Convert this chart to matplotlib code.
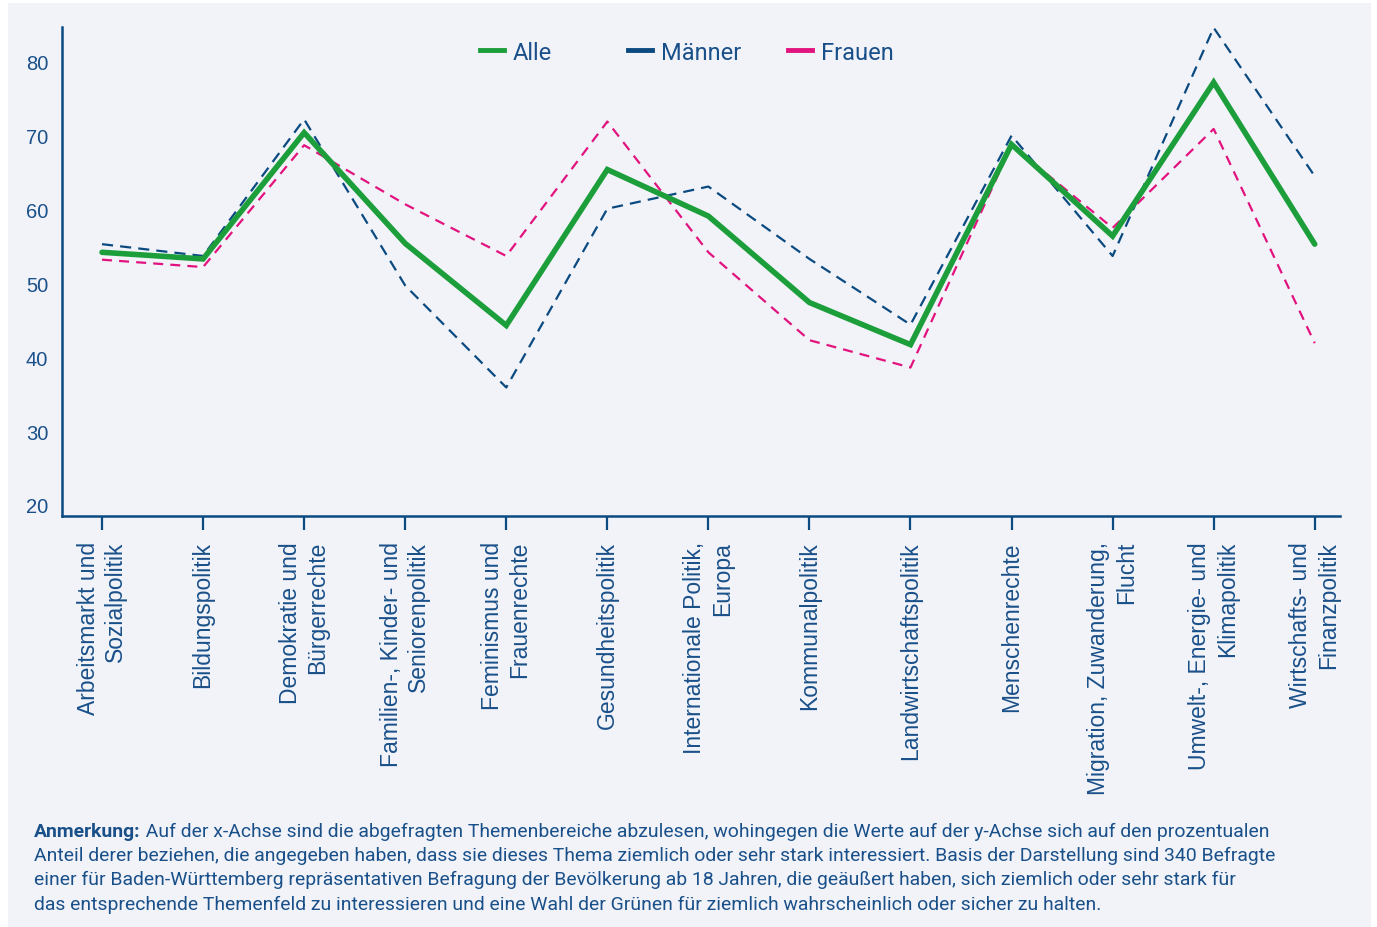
import matplotlib
matplotlib.use("Agg")
import matplotlib.pyplot as plt
from matplotlib.lines import Line2D
from matplotlib.patches import Rectangle
import numpy as np

themen = ["Arbeitsmarkt und\nSozialpolitik", "Bildungspolitik", "Demokratie und\nBürgerrechte",
          "Familien-, Kinder- und\nSeniorenpolitik", "Feminismus und\nFrauenrechte",
          "Gesundheitspolitik", "Internationale Politik,\nEuropa", "Kommunalpolitik",
          "Landwirtschaftspolitik", "Menschenrechte", "Migration, Zuwanderung,\nFlucht",
          "Umwelt-, Energie- und\nKlimapolitik", "Wirtschafts- und\nFinanzpolitik"]
alle = [54.2, 53.3, 70.4, 55.4, 44.3, 65.4, 59.1, 47.4, 41.7, 68.8, 56.4, 77.2, 55.3]
maenner = [55.3, 53.7, 72.2, 49.7, 35.9, 60.1, 63.1, 53.3, 44.4, 70.0, 53.7, 84.6, 64.5]
frauen = [53.2, 52.2, 68.7, 60.7, 53.7, 71.9, 54.2, 42.3, 38.6, 68.7, 57.5, 70.9, 41.9]
y_ticks = [20, 30, 40, 50, 60, 70, 80]
serien = ["Alle", "Männer", "Frauen"]

navy = "#0b4a80"
textc = "#1a5089"
green = "#1c9e3b"
pink = "#e2137e"
bg = "#f1f3f9"

W, H = 1377, 928
fig = plt.figure(figsize=(W / 100, H / 100), dpi=100, facecolor="white")
fig.patches.append(Rectangle((8 / W, 0), (1371 - 8) / W, (H - 4) / H,
                             transform=fig.transFigure, facecolor=bg, edgecolor="none", zorder=-1))

ax = fig.add_axes([62 / W, 1 - 517 / H, (1340 - 62) / W, (517 - 28) / H])
ax.set_facecolor(bg)

x = np.arange(len(themen))
ax.plot(x, maenner, color=navy, lw=1.6, dashes=(5, 3.2), clip_on=False)
ax.plot(x, frauen, color=pink, lw=1.6, dashes=(4.5, 3.2), clip_on=False)
ax.plot(x, alle, color=green, lw=4.0, solid_joinstyle="miter", solid_capstyle="round", clip_on=False)

ax.set_xlim(-0.396, 12.25)
ax.set_ylim(18.5, 84.7)
ax.set_yticks(y_ticks)
ax.set_xticks(x)
ax.set_xticklabels(themen, rotation=90, ha="center", va="top", multialignment="right",
                   fontsize=16.5, color=textc, family="Liberation Sans", linespacing=1.25)
ax.set_yticklabels([str(v) for v in y_ticks], family="Liberation Sans")
ax.tick_params(axis="y", length=0, pad=10, labelsize=14.5, labelcolor=textc)
ax.tick_params(axis="x", length=10, width=1.6, color=navy, pad=8, direction="out")

for s in ["top", "right"]:
    ax.spines[s].set_visible(False)
for s in ["left", "bottom"]:
    ax.spines[s].set_color(navy)
    ax.spines[s].set_linewidth(1.8)

# legend: three separate entries at their own positions
leg_farben = [green, navy, pink]
leg_x = [480, 628, 788]
for name, col, lx in zip(serien, leg_farben, leg_x):
    leg = fig.legend([Line2D([], [], color=col, lw=3.5)], [name], loc="center left",
                     bbox_to_anchor=(lx / W, 1 - 53 / H), frameon=False, borderpad=0,
                     borderaxespad=0, handlelength=1.0, handletextpad=0.4,
                     prop={"family": "Roboto", "size": 17})
    for t in leg.get_texts():
        t.set_color(textc)

note_lines = ["Auf der x-Achse sind die abgefragten Themenbereiche abzulesen, wohingegen die Werte auf der y-Achse sich auf den prozentualen",
              "Anteil derer beziehen, die angegeben haben, dass sie dieses Thema ziemlich oder sehr stark interessiert. Basis der Darstellung sind 340 Befragte",
              "einer für Baden-Württemberg repräsentativen Befragung der Bevölkerung ab 18 Jahren, die geäußert haben, sich ziemlich oder sehr stark für",
              "das entsprechende Themenfeld zu interessieren und eine Wahl der Grünen für ziemlich wahrscheinlich oder sicher zu halten."]
fs = 13.95
bold = fig.text(34 / W, 1 - 832 / H, "Anmerkung:", fontsize=fs, fontweight="bold",
                color=textc, family="Roboto", va="center")
ax.annotate(" " + note_lines[0], xy=(1, 0.5), xycoords=bold, va="center", ha="left",
            fontsize=fs, color=textc, family="Roboto", annotation_clip=False)
for i, line in enumerate(note_lines[1:]):
    fig.text(34 / W, 1 - (856 + 24.3 * i) / H, line, fontsize=fs, color=textc,
             family="Roboto", va="center")

fig.savefig("out.png", dpi=100, facecolor=fig.get_facecolor())
